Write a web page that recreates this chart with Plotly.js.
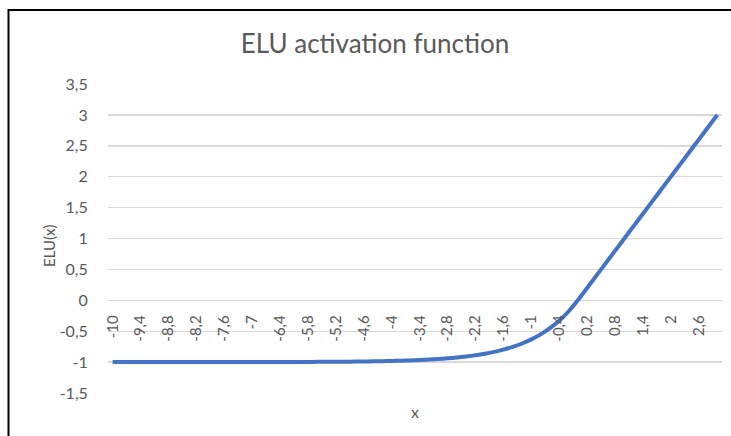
<!DOCTYPE html>
<html>
<head>
<meta charset="utf-8">
<script src="https://cdn.plot.ly/plotly-3.0.1.min.js"></script>
<style>
html,body{margin:0;padding:0;background:#fff;}
#chart{width:731px;height:436px;}
</style>
</head>
<body>
<div id="chart"></div>
<script>
// Categories (x values, shown with comma decimals as in the original)
var xCategories = [
  '-10','-9,8','-9,6','-9,4','-9,2','-9','-8,8','-8,6','-8,4','-8,2',
  '-8','-7,8','-7,6','-7,4','-7,2','-7','-6,8','-6,6','-6,4','-6,2',
  '-6','-5,8','-5,6','-5,4','-5,2','-5','-4,8','-4,6','-4,4','-4,2',
  '-4','-3,8','-3,6','-3,4','-3,2','-3','-2,8','-2,6','-2,4','-2,2',
  '-2','-1,8','-1,6','-1,4','-1,2','-1','-0,8','-0,6','-0,4','-0,2',
  '0','0,2','0,4','0,6','0,8','1','1,2','1,4','1,6','1,8',
  '2','2,2','2,4','2,6','2,8','3'
];

// ELU(x) values
var eluValues = [
  -1.000,-1.000,-1.000,-1.000,-1.000,-1.000,-1.000,-1.000,-1.000,-1.000,
  -1.000,-1.000,-0.999,-0.999,-0.999,-0.999,-0.999,-0.999,-0.998,-0.998,
  -0.998,-0.997,-0.996,-0.995,-0.994,-0.993,-0.992,-0.990,-0.988,-0.985,
  -0.982,-0.978,-0.973,-0.967,-0.959,-0.950,-0.939,-0.926,-0.909,-0.889,
  -0.865,-0.835,-0.798,-0.753,-0.699,-0.632,-0.551,-0.451,-0.330,-0.181,
  0.0,0.2,0.4,0.6,0.8,1.0,1.2,1.4,1.6,1.8,
  2.0,2.2,2.4,2.6,2.8,3.0
];

// Category labels that are shown on the x axis
var xTickLabels = [
  '-10','-9,4','-8,8','-8,2','-7,6','-7','-6,4','-5,8','-5,2','-4,6',
  '-4','-3,4','-2,8','-2,2','-1,6','-1','-0,4','0,2','0,8','1,4','2','2,6'
];

var yTickValues = [-1.5,-1,-0.5,0,0.5,1,1.5,2,2.5,3,3.5];
var yTickLabels = ['-1,5','-1','-0,5','0','0,5','1','1,5','2','2,5','3','3,5'];

var chartTitle = 'ELU activation function';
var xTitle = 'x';
var yTitle = 'ELU(x)';

var textColor = '#595959';
var fontFam = 'Lato, "Open Sans", "Liberation Sans", sans-serif';

var trace = {
  type: 'scatter',
  mode: 'lines',
  x: xCategories,
  y: eluValues,
  line: {color: '#4472C4', width: 4, shape: 'spline', smoothing: 0.6},
  hoverinfo: 'x+y'
};

// geometry of plot area (px)
var W = 731, H = 436;
var mL = 108, mR = 9, mT = 84, mB = 43;
var pw = W - mL - mR, ph = H - mT - mB;
function px2paperX(p){ return (p - mL) / pw; }
function px2paperY(p){ return (H - mB - p) / ph; }

var layout = {
  width: W, height: H,
  margin: {l: mL, r: mR, t: mT, b: mB, pad: 0},
  paper_bgcolor: '#ffffff',
  plot_bgcolor: '#ffffff',
  separators: ', ',
  showlegend: false,
  font: {family: fontFam, color: textColor, size: 14},
  title: {
    text: chartTitle,
    font: {family: fontFam, size: 26, color: textColor},
    xref: 'container', yref: 'container',
    x: 375 / W, y: 1 - 44 / H,
    xanchor: 'center', yanchor: 'middle'
  },
  xaxis: {
    type: 'category',
    range: [-0.5, xCategories.length - 0.5],
    anchor: 'free',
    position: 1.5 / 5,
    showgrid: false,
    zeroline: false,
    showline: false,
    ticks: 'outside',
    ticklen: 8,
    tickcolor: 'rgba(0,0,0,0)',
    tickmode: 'array',
    tickvals: xTickLabels,
    ticktext: xTickLabels,
    tickangle: -90,
    tickfont: {family: fontFam, size: 15, color: textColor},
    fixedrange: true
  },
  yaxis: {
    range: [-1.5, 3.5],
    tickmode: 'array',
    tickvals: yTickValues,
    ticktext: yTickLabels,
    showgrid: true,
    gridcolor: '#d9d9d9',
    gridwidth: 1.4,
    zeroline: false,
    showline: false,
    ticks: 'outside',
    ticklen: 16,
    tickcolor: 'rgba(0,0,0,0)',
    tickfont: {family: fontFam, size: 16, color: textColor},
    fixedrange: true
  },
  annotations: [
    {
      text: xTitle, xref: 'paper', yref: 'paper',
      x: px2paperX(415), y: px2paperY(411),
      xanchor: 'center', yanchor: 'middle', showarrow: false,
      font: {family: fontFam, size: 16, color: textColor}
    },
    {
      text: yTitle, xref: 'paper', yref: 'paper',
      x: px2paperX(49), y: px2paperY(246),
      xanchor: 'center', yanchor: 'middle', showarrow: false,
      textangle: -90,
      font: {family: fontFam, size: 15, color: textColor}
    }
  ],
  shapes: [
    {
      type: 'path', xref: 'paper', yref: 'paper',
      path: 'M ' + px2paperX(8.5) + ' ' + px2paperY(440) +
            ' L ' + px2paperX(8.5) + ' ' + px2paperY(10) +
            ' L ' + px2paperX(740) + ' ' + px2paperY(10),
      line: {color: '#000000', width: 2}
    }
  ]
};

Plotly.newPlot('chart', [trace], layout, {displayModeBar: false, staticPlot: true});
</script>
</body>
</html>
